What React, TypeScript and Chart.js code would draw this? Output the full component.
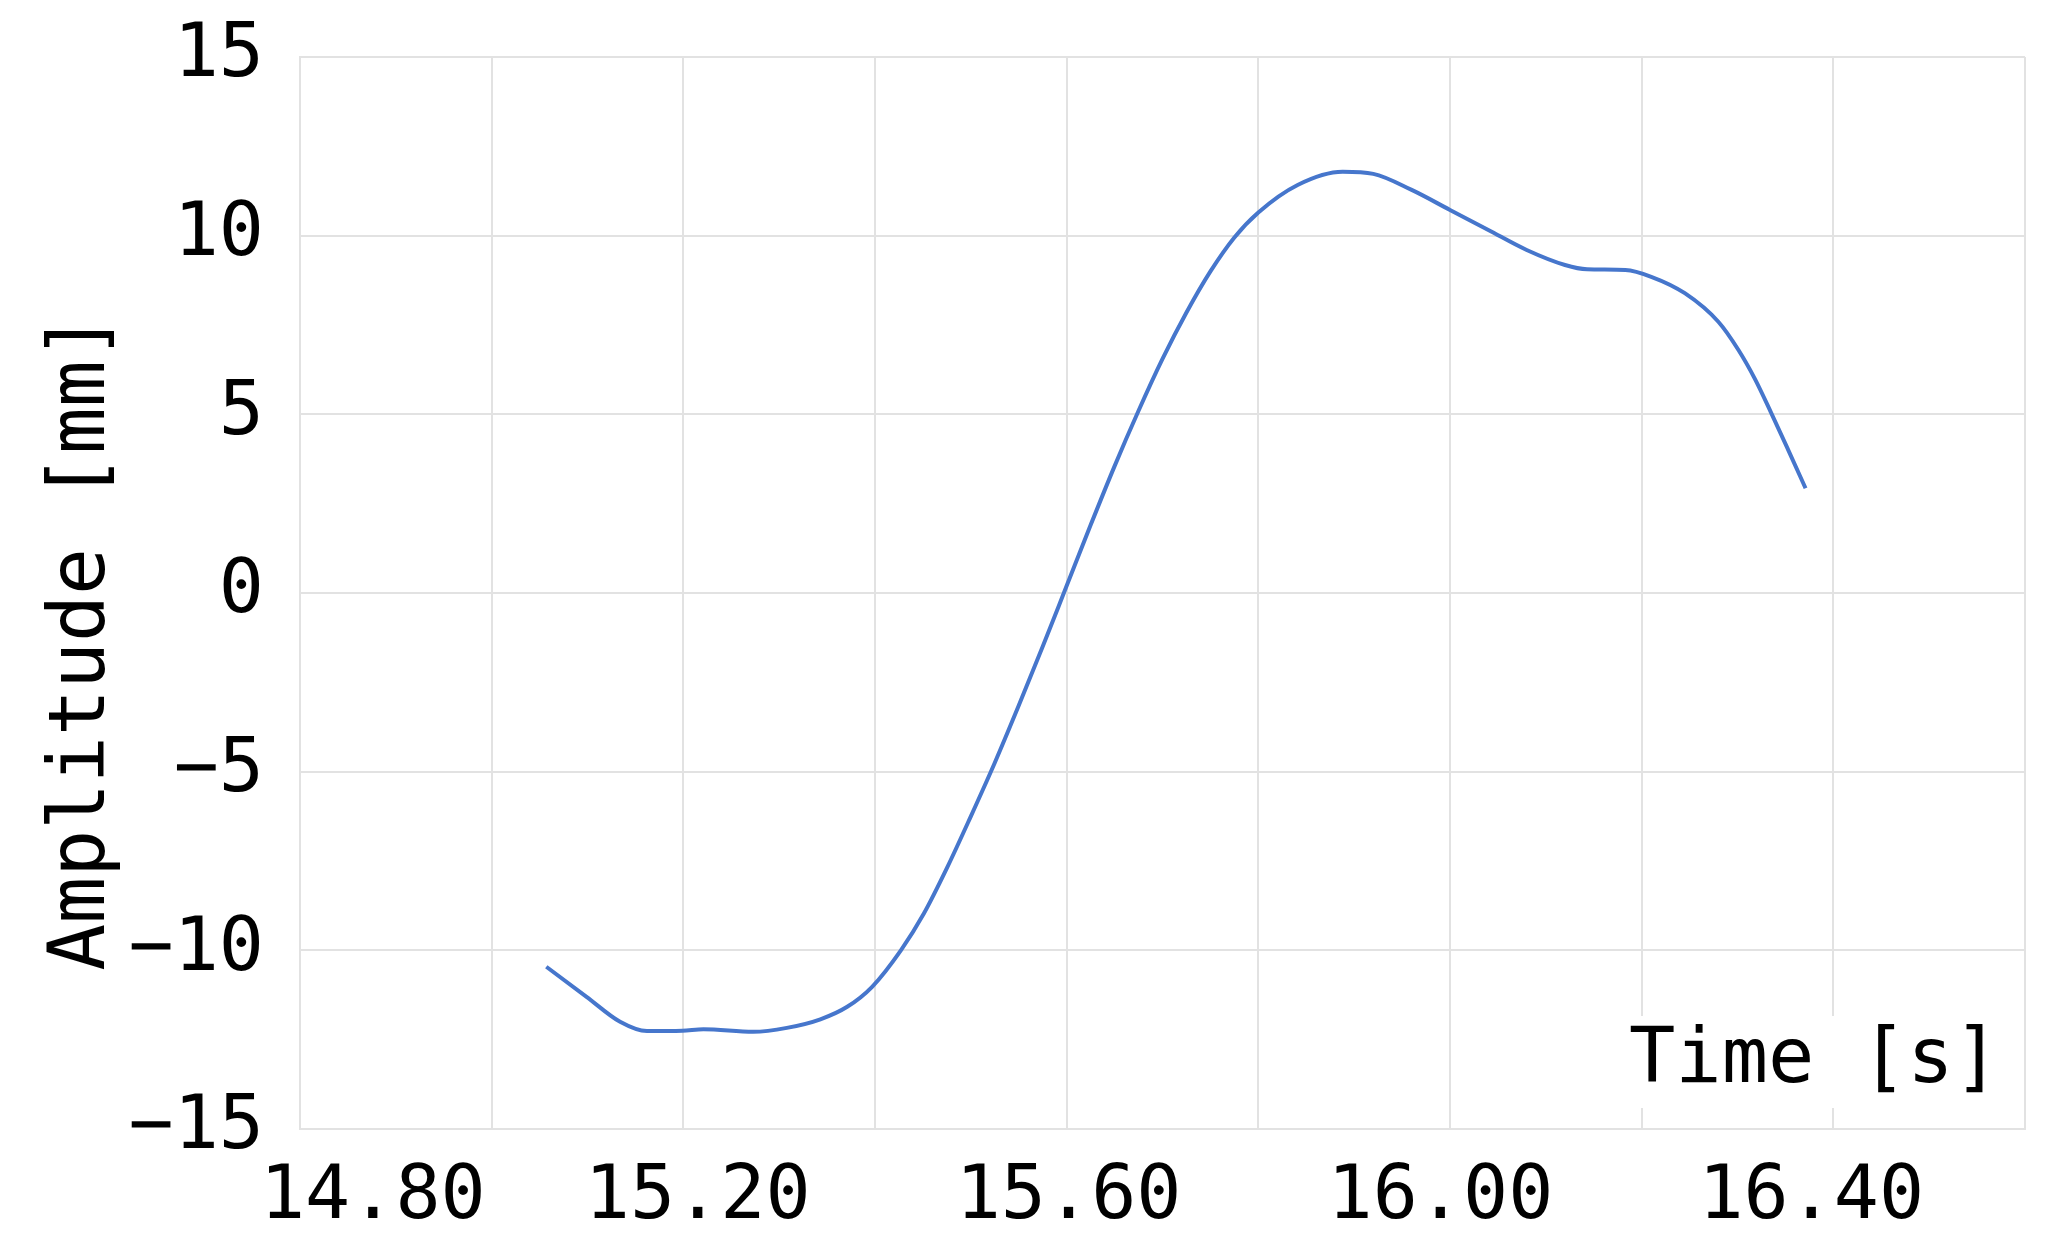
import React, { useEffect, useRef } from "react";
import { Chart, registerables } from "chart.js";

Chart.register(...registerables);

// ---- data ----
const TIME = [
  15.057, 15.099, 15.134, 15.162, 15.199, 15.221, 15.273, 15.308, 15.343, 15.371,
  15.397, 15.427, 15.451, 15.475, 15.5, 15.525, 15.55, 15.575, 15.6, 15.625,
  15.65, 15.675, 15.7, 15.725, 15.75, 15.775, 15.8, 15.841, 15.888, 15.92,
  15.96, 16.0, 16.04, 16.08, 16.12, 16.143, 16.183, 16.21, 16.245, 16.28,
  16.301, 16.318, 16.335, 16.353, 16.371,
];
const AMPLITUDE = [
  -10.46, -11.3, -12.0, -12.26, -12.25, -12.21, -12.28, -12.17, -11.93, -11.58,
  -11.02, -10.0, -8.97, -7.7, -6.25, -4.75, -3.15, -1.5, 0.2, 1.9,
  3.55, 5.1, 6.55, 7.85, 9.0, 9.95, 10.65, 11.42, 11.79, 11.73,
  11.28, 10.72, 10.16, 9.6, 9.18, 9.06, 9.04, 8.85, 8.39, 7.59,
  6.8, 6.0, 5.05, 4.0, 2.93,
];
const X_GRID = [14.8, 15.0, 15.2, 15.4, 15.6, 15.8, 16.0, 16.2, 16.4, 16.6];
const X_TICK_LABELS = ["14.80", "15.20", "15.60", "16.00", "16.40"];
const X_TICK_LABEL_AT = [14.876, 15.215, 15.602, 15.99, 16.377];
const Y_TICKS = [-15, -10, -5, 0, 5, 10, 15];
const X_TITLE = "Time [s]";
const Y_TITLE = "Amplitude [mm]";

const FONT = "'DejaVu Sans Mono', monospace";
const GRID = "#e2e2e2";
const LINE = "#4676cc";

const titlesPlugin = {
  id: "titles",
  afterDraw(chart: any) {
    const ctx = chart.ctx;
    const area = chart.chartArea;
    ctx.save();
    // y title
    ctx.font = `78px ${FONT}`;
    ctx.fillStyle = "#000";
    ctx.textAlign = "center";
    ctx.textBaseline = "middle";
    ctx.translate(84, 642);
    ctx.rotate(-Math.PI / 2);
    ctx.fillText(Y_TITLE, 0, 0);
    ctx.restore();

    // x title inside plot, bottom-right
    ctx.save();
    ctx.font = `77px ${FONT}`;
    const w = ctx.measureText(X_TITLE).width;
    const left = area.right - 396;
    const base = area.bottom - 47;
    ctx.fillStyle = "#fff";
    ctx.fillRect(left - 8, base - 66, w + 16, 92);
    ctx.fillStyle = "#000";
    ctx.textAlign = "left";
    ctx.textBaseline = "alphabetic";
    ctx.fillText(X_TITLE, left, base);
    ctx.restore();
  },
};

export default function App() {
  const ref = useRef<HTMLCanvasElement>(null);

  useEffect(() => {
    if (!ref.current) return;
    const chart = new Chart(ref.current, {
      type: "line",
      data: {
        datasets: [
          {
            data: TIME.map((t, i) => ({ x: t, y: AMPLITUDE[i] })),
            borderColor: LINE,
            borderWidth: 4,
            pointRadius: 0,
            cubicInterpolationMode: "monotone",
            fill: false,
          },
        ],
      },
      options: {
        responsive: false,
        animation: false,
        layout: { padding: { top: 57, right: 39, left: 0, bottom: 0 } },
        plugins: {
          legend: { display: false },
          tooltip: { enabled: false },
        },
        scales: {
          x: {
            type: "linear",
            min: 14.8,
            max: 16.6,
            afterBuildTicks: (scale: any) => {
              const all = [...X_GRID, ...X_TICK_LABEL_AT].sort((a, b) => a - b);
              scale.ticks = all.map((v) => ({ value: v }));
            },
            afterFit: (scale: any) => {
              scale.height = 126;
            },
            ticks: {
              autoSkip: false,
              maxRotation: 0,
              minRotation: 0,
              padding: 25,
              color: "#000",
              font: { family: FONT, size: 75 },
              callback: (value: any) => {
                const i = X_TICK_LABEL_AT.indexOf(Number(value));
                return i >= 0 ? X_TICK_LABELS[i] : "";
              },
            },
            grid: {
              color: (c: any) =>
                c.tick && X_GRID.includes(c.tick.value) ? GRID : "rgba(0,0,0,0)",
              lineWidth: 2,
              drawTicks: false,
            },
            border: { color: GRID, width: 2 },
          },
          y: {
            type: "linear",
            min: -15,
            max: 15,
            afterBuildTicks: (scale: any) => {
              scale.ticks = Y_TICKS.map((v) => ({ value: v }));
            },
            afterFit: (scale: any) => {
              scale.width = 300;
            },
            ticks: {
              padding: 36,
              color: "#000",
              font: { family: FONT, size: 75, lineHeight: 0.2 },
              callback: (value: any) => {
                const v = Number(value);
                return v < 0 ? "\u2212" + Math.abs(v) : String(v);
              },
            },
            grid: { color: GRID, lineWidth: 2, drawTicks: false },
            border: { color: GRID, width: 2 },
          },
        },
      },
      plugins: [titlesPlugin],
    });
    return () => chart.destroy();
  }, []);

  return (
    <canvas
      ref={ref}
      width={2064}
      height={1255}
      style={{ position: "absolute", left: 0, top: 0, width: 2064, height: 1255, background: "#fff" }}
    />
  );
}
